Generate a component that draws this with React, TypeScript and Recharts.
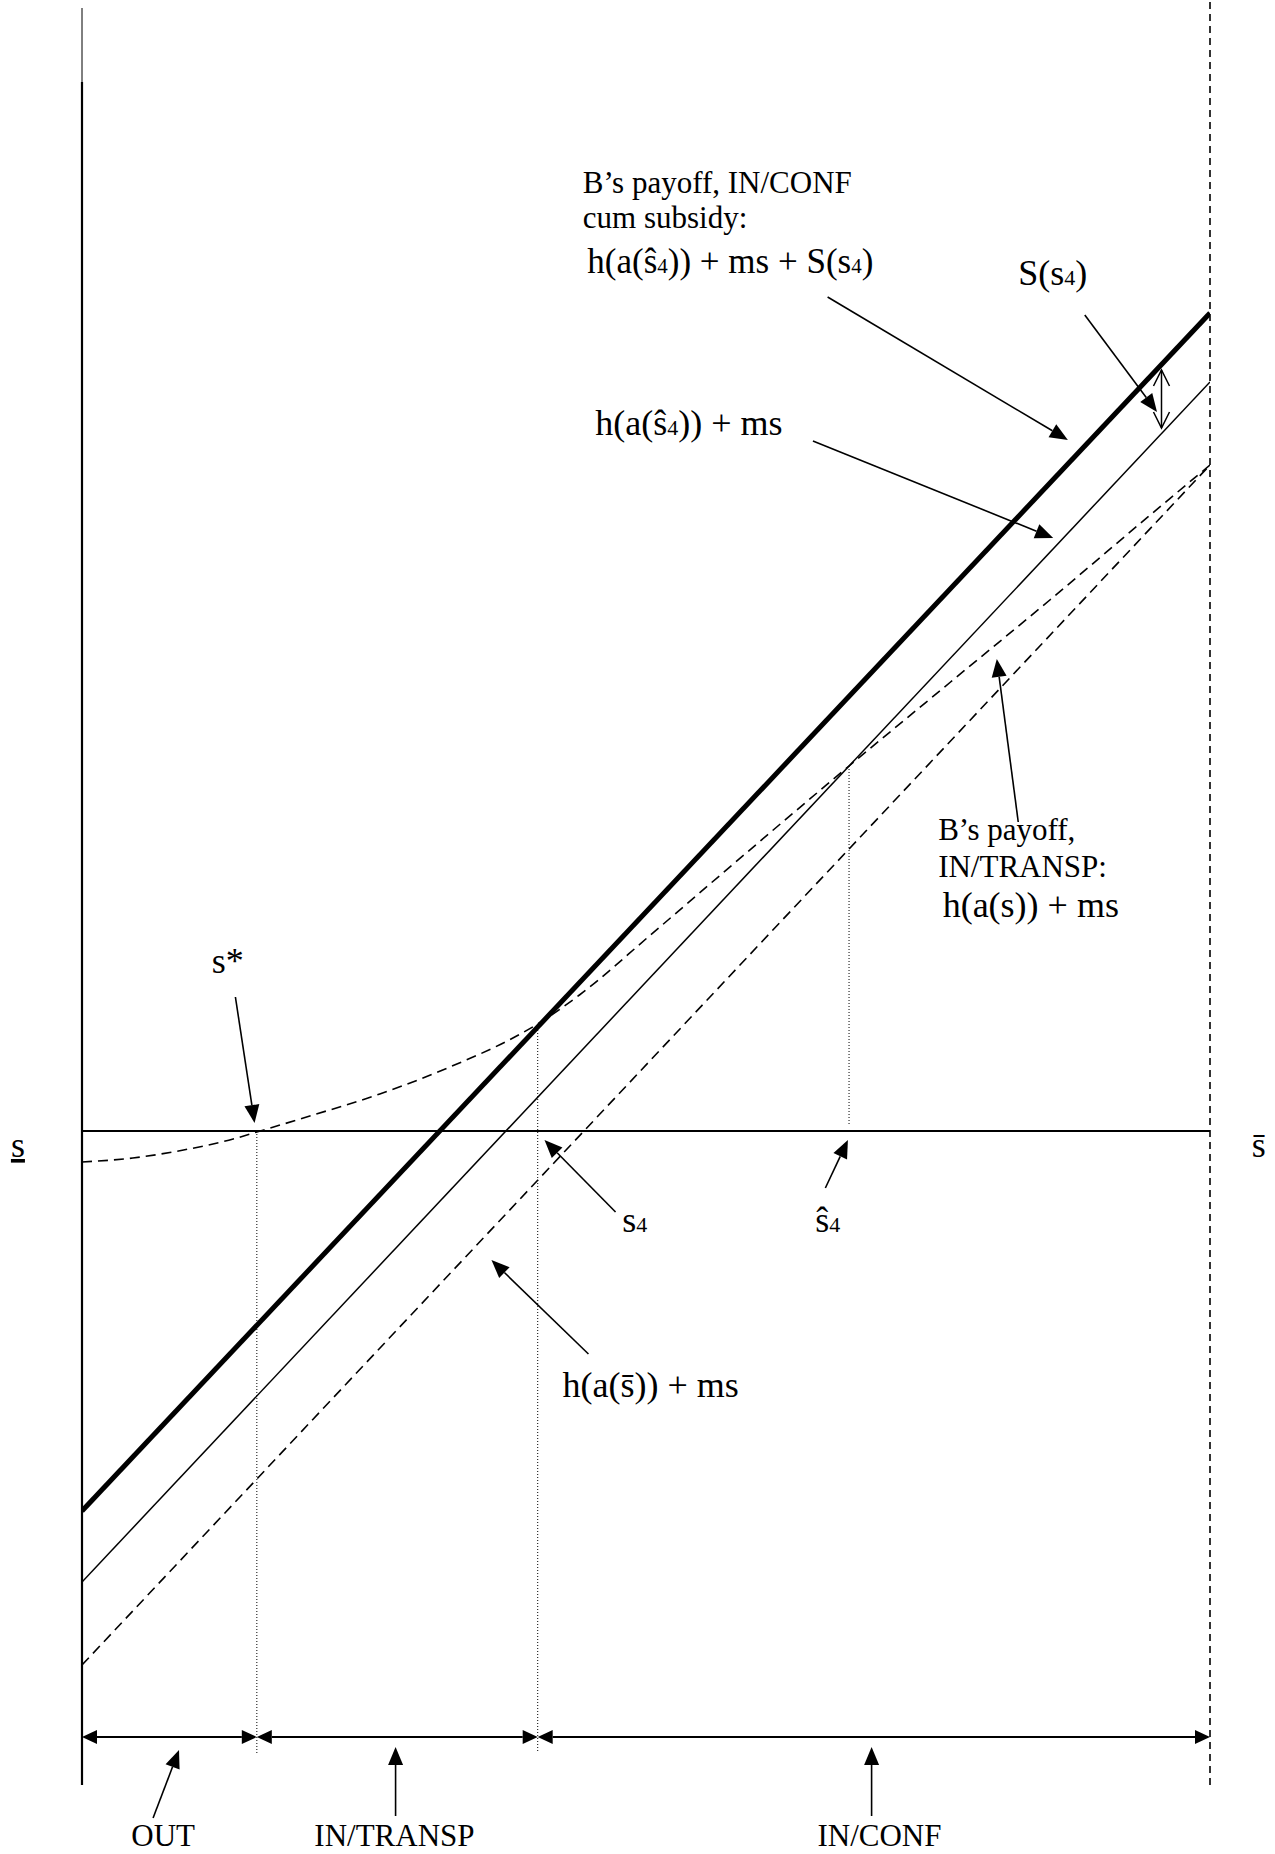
import React from 'react';
import { ComposedChart, Line, XAxis, YAxis, ReferenceLine, ReferenceDot } from 'recharts';

const FONT = '"Liberation Serif", "Times New Roman", Times, serif';

// Horizontal axis: s from s_low (0) to s_high (100). Vertical: payoff units.
const xThick = [0, 100];
const yThick = [27.7, 147.5]; // h(a(ŝ4)) + ms + S(s4)
const xThin = [0, 100];
const yThin = [20.6, 140.6]; // h(a(ŝ4)) + ms
const xBar = [0, 100];
const yBar = [12.3, 132.3]; // h(a(s̄)) + ms
const xCurve = [0, 4.5, 9.0, 13.4, 15.5, 20.5, 26.4, 32.4, 38.2, 40.4, 44.1, 50.4, 56.6, 68.0, 77.0, 85.8, 94.7, 100];
const yCurve = [62.6, 63.0, 63.8, 64.9, 65.6, 67.3, 69.4, 72.0, 75.0, 76.4, 79.3, 85.3, 91.3, 102.2, 110.6, 118.8, 127.3, 132.3]; // h(a(s)) + ms

const sLevel = 65.7;
const sStar = 15.5;
const s4 = 40.4;
const s4hat = 68.0;
const sLow = 0;
const sHigh = 100;
const yBottom = 0.3;
const yTop = 178;
const yAxisBreak = 170.6;
const yRegions = 5.1;
const yDotEnd = 3.5;

// region labels
const regionNames = ['OUT', 'IN/TRANSP', 'IN/CONF'];
const regionBounds = [sLow, sStar, s4, sHigh];

// annotation arrows: [x tail, y tail, x tip, y tip]
const arrows: number[][] = [
  [66.1, 149.1, 87.4, 134.8],
  [88.9, 147.3, 95.3, 137.6],
  [64.8, 134.7, 86.1, 125.0],
  [83.0, 96.6, 81.1, 112.9],
  [13.6, 79.1, 15.3, 66.5],
  [47.3, 57.6, 41.0, 64.8],
  [65.9, 60.0, 67.9, 64.8],
  [44.9, 43.4, 36.3, 52.8],
  [6.3, -3.0, 8.6, 3.8],
  [27.8, -2.8, 27.8, 4.1],
  [70.0, -2.8, 70.0, 4.1],
];

type Part = { t: string; small?: boolean; under?: boolean };
type Lab = { x: number; y: number; size: number; anchor?: string; parts: Part[] };

const labels: Lab[] = [
  { x: 44.4, y: 159.5, size: 31, parts: [{ t: 'B\u2019s payoff, IN/CONF' }] },
  { x: 44.4, y: 156.0, size: 31, parts: [{ t: 'cum subsidy:' }] },
  { x: 44.8, y: 151.5, size: 35, parts: [{ t: 'h(a(\u015D' }, { t: '4', small: true }, { t: ')) + ms + S(s' }, { t: '4', small: true }, { t: ')' }] },
  { x: 83.0, y: 150.3, size: 36, parts: [{ t: 'S(s' }, { t: '4', small: true }, { t: ')' }] },
  { x: 45.5, y: 135.3, size: 36, parts: [{ t: 'h(a(\u015D' }, { t: '4', small: true }, { t: ')) + ms' }] },
  { x: 75.9, y: 94.8, size: 31, parts: [{ t: 'B\u2019s payoff,' }] },
  { x: 75.9, y: 91.1, size: 31, parts: [{ t: 'IN/TRANSP:' }] },
  { x: 76.3, y: 87.1, size: 36, parts: [{ t: 'h(a(s)) + ms' }] },
  { x: 11.5, y: 81.5, size: 36, parts: [{ t: 's*' }] },
  { x: 47.9, y: 55.6, size: 36, parts: [{ t: 's' }, { t: '4', small: true }] },
  { x: 65.0, y: 55.6, size: 36, parts: [{ t: '\u015D' }, { t: '4', small: true }] },
  { x: 42.6, y: 39.1, size: 36, parts: [{ t: 'h(a(s\u0304)) + ms' }] },
  { x: -6.3, y: 63.1, size: 36, parts: [{ t: 's', under: true }] },
  { x: 103.7, y: 63.1, size: 36, parts: [{ t: 's\u0304' }] },
  { x: 7.2, y: -5.8, size: 31, anchor: 'middle', parts: [{ t: regionNames[0] }] },
  { x: 27.7, y: -5.8, size: 31, anchor: 'middle', parts: [{ t: regionNames[1] }] },
  { x: 70.7, y: -5.8, size: 31, anchor: 'middle', parts: [{ t: regionNames[2] }] },
];

const zip = (xs: number[], ys: number[]) => xs.map((x, i) => ({ x, y: ys[i] }));
const thickData = zip(xThick, yThick);
const thinData = zip(xThin, yThin);
const barData = zip(xBar, yBar);
const curveData = zip(xCurve, yCurve);

const head = (tx: number, ty: number, ux: number, uy: number, L: number, W: number) => {
  const bx = tx - ux * L;
  const by = ty - uy * L;
  const px = -uy * W;
  const py = ux * W;
  return { bx, by, pts: `${tx},${ty} ${bx + px},${by + py} ${bx - px},${by - py}`, lx: bx + px, ly: by + py, rx: bx - px, ry: by - py };
};

const arrowShape = (mode: 'end' | 'both' | 'open2', L: number, W: number, sw: number) => (p: any) => {
  const { x1, y1, x2, y2 } = p;
  if ([x1, y1, x2, y2].some((v) => typeof v !== 'number' || isNaN(v))) return <g />;
  const dx = x2 - x1;
  const dy = y2 - y1;
  const len = Math.sqrt(dx * dx + dy * dy) || 1;
  const ux = dx / len;
  const uy = dy / len;
  if (mode === 'open2') {
    const h2 = head(x2, y2, ux, uy, L, W);
    const h1 = head(x1, y1, -ux, -uy, L, W);
    return (
      <g stroke="#000" strokeWidth={sw} fill="none">
        <line x1={x1} y1={y1} x2={x2} y2={y2} />
        <polyline points={`${h2.lx},${h2.ly} ${x2},${y2} ${h2.rx},${h2.ry}`} />
        <polyline points={`${h1.lx},${h1.ly} ${x1},${y1} ${h1.rx},${h1.ry}`} />
      </g>
    );
  }
  const h2 = head(x2, y2, ux, uy, L, W);
  if (mode === 'both') {
    const h1 = head(x1, y1, -ux, -uy, L, W);
    return (
      <g>
        <line x1={h1.bx} y1={h1.by} x2={h2.bx} y2={h2.by} stroke="#000" strokeWidth={sw} />
        <polygon points={h1.pts} fill="#000" />
        <polygon points={h2.pts} fill="#000" />
      </g>
    );
  }
  return (
    <g>
      <line x1={x1} y1={y1} x2={h2.bx} y2={h2.by} stroke="#000" strokeWidth={sw} />
      <polygon points={h2.pts} fill="#000" />
    </g>
  );
};

const textShape = (lab: Lab) => (p: any) => {
  if (typeof p.cx !== 'number' || isNaN(p.cx)) return <g />;
  return (
    <text x={p.cx} y={p.cy} fontFamily={FONT} fontSize={lab.size} textAnchor={lab.anchor || 'start'} fill="#000">
      {lab.parts.map((pt, i) => (
        <tspan key={i} fontSize={pt.small ? Math.round(lab.size * 0.6) : lab.size} style={pt.under ? { textDecoration: 'underline' } : undefined}>
          {pt.t}
        </tspan>
      ))}
    </text>
  );
};

export default function App() {
  return (
    <div style={{ position: 'absolute', left: 0, top: 0, width: 1275, height: 1854, background: '#fff', overflow: 'hidden' }}>
      <ComposedChart width={1275} height={1854} margin={{ top: 0, right: 65, bottom: 66, left: 82 }}>
        <XAxis type="number" dataKey="x" domain={[0, 100]} hide allowDataOverflow />
        <YAxis type="number" domain={[0, 178.8]} hide allowDataOverflow />

        {/* axes frame */}
        <ReferenceLine segment={[{ x: sLow, y: yBottom }, { x: sLow, y: yAxisBreak }]} stroke="#000" strokeWidth={2.2} ifOverflow="visible" />
        <ReferenceLine segment={[{ x: sLow, y: yAxisBreak }, { x: sLow, y: yTop }]} stroke="#000" strokeWidth={1} ifOverflow="visible" />
        <ReferenceLine segment={[{ x: sHigh, y: yBottom }, { x: sHigh, y: 178.8 }]} stroke="#000" strokeWidth={1.6} strokeDasharray="7 5" ifOverflow="visible" />
        <ReferenceLine segment={[{ x: sLow, y: sLevel }, { x: sHigh, y: sLevel }]} stroke="#000" strokeWidth={2} ifOverflow="visible" />

        {/* dotted guides */}
        <ReferenceLine segment={[{ x: sStar, y: sLevel }, { x: sStar, y: yDotEnd }]} stroke="#000" strokeWidth={1} strokeDasharray="1 2" ifOverflow="visible" />
        <ReferenceLine segment={[{ x: s4, y: 76.4 }, { x: s4, y: yDotEnd }]} stroke="#000" strokeWidth={1} strokeDasharray="1 2" ifOverflow="visible" />
        <ReferenceLine segment={[{ x: s4hat, y: 102.2 }, { x: s4hat, y: 66.4 }]} stroke="#000" strokeWidth={1} strokeDasharray="1 2" ifOverflow="visible" />

        <Line data={barData} dataKey="y" type="linear" stroke="#000" strokeWidth={1.6} strokeDasharray="10 6" dot={false} activeDot={false} isAnimationActive={false} />
        <Line data={curveData} dataKey="y" type="monotone" stroke="#000" strokeWidth={1.6} strokeDasharray="10 6" dot={false} activeDot={false} isAnimationActive={false} />
        <Line data={thinData} dataKey="y" type="linear" stroke="#000" strokeWidth={1.5} dot={false} activeDot={false} isAnimationActive={false} />
        <Line data={thickData} dataKey="y" type="linear" stroke="#000" strokeWidth={5} dot={false} activeDot={false} isAnimationActive={false} />

        {/* region double arrows */}
        {regionNames.map((n, i) => (
          <ReferenceLine
            key={'r' + n}
            segment={[{ x: regionBounds[i], y: yRegions }, { x: regionBounds[i + 1], y: yRegions }]}
            ifOverflow="visible"
            shape={arrowShape('both', 15, 7, 2.2)}
          />
        ))}

        {/* S(s4) gap indicator */}
        <ReferenceLine segment={[{ x: 95.7, y: 141.8 }, { x: 95.7, y: 136.0 }]} ifOverflow="visible" shape={arrowShape('open2', 16, 8, 1.5)} />

        {/* annotation arrows */}
        {arrows.map((a, i) => (
          <ReferenceLine key={'a' + i} segment={[{ x: a[0], y: a[1] }, { x: a[2], y: a[3] }]} ifOverflow="visible" shape={arrowShape('end', 18, 7.5, 1.6)} />
        ))}

        {/* labels */}
        {labels.map((lab, i) => (
          <ReferenceDot key={'l' + i} x={lab.x} y={lab.y} r={0} ifOverflow="visible" shape={textShape(lab)} />
        ))}
      </ComposedChart>
    </div>
  );
}
